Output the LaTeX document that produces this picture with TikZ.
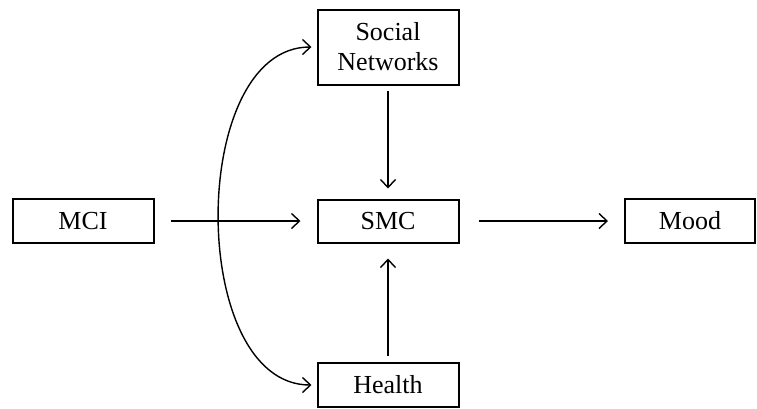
\documentclass[tikz,border=0pt]{standalone}
\usepackage{fontspec}
\setmainfont{Liberation Serif}
\usetikzlibrary{arrows.meta}
\begin{document}
\begin{tikzpicture}[x=1pt,y=-1pt,
  box/.style={draw,line width=2pt,inner sep=0pt,align=center,
    font=\fontsize{26}{30}\selectfont},
  conn/.style={line width=1.4pt,-{Straight Barb[length=8pt,width=15pt,line width=1.4pt]}},
  both/.style={line width=1.4pt,{Straight Barb[length=8pt,width=15pt,line width=1.4pt]}-{Straight Barb[length=8pt,width=15pt,line width=1.4pt]}}]
\useasboundingbox (0,0) rectangle (757,408);
\node[box,minimum width=141pt,minimum height=75pt] (soc) at (388,47) {Social\\Networks};
\node[box,minimum width=141pt,minimum height=44pt] (mci) at (83,221) {MCI};
\node[box,minimum width=141pt,minimum height=43pt] (smc) at (388,221) {SMC};
\node[box,minimum width=130pt,minimum height=44pt] (mood) at (690,221) {Mood};
\node[box,minimum width=141pt,minimum height=44pt] (hea) at (388,385) {Health};
\draw[conn,shorten <=16pt,shorten >=16pt] (mci.east) -- (smc.west);
\draw[conn,shorten <=19pt,shorten >=16pt] (smc.east) -- (mood.west);
\draw[conn,shorten <=5pt,shorten >=10pt] (soc.south) -- (smc.north);
\draw[conn,shorten <=6pt,shorten >=15pt] (hea.north) -- (smc.south);
\draw[both,shorten <=5pt,shorten >=5pt] (soc.west) .. controls +(-129,0) and +(-129,0) .. (hea.west);
\end{tikzpicture}
\end{document}
